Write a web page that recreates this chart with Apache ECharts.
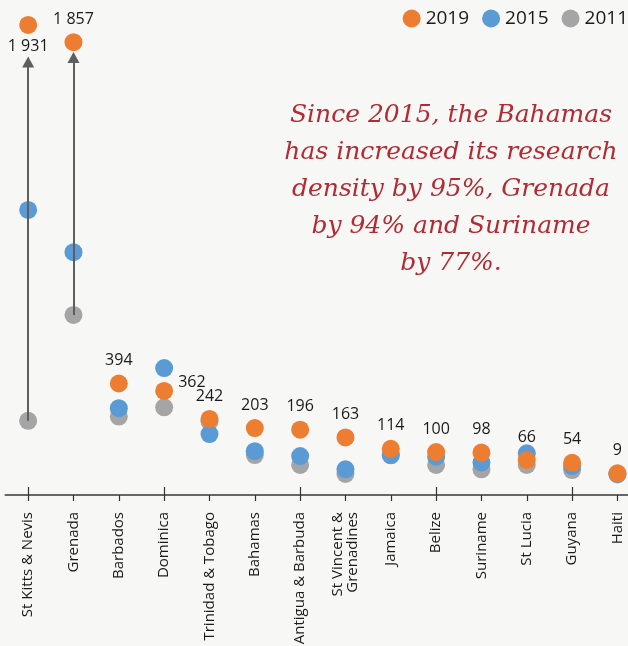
<!DOCTYPE html>
<html>
<head>
<meta charset="utf-8">
<script src="https://cdn.jsdelivr.net/npm/echarts@6/dist/echarts.min.js"></script>
<style>
html,body{margin:0;padding:0;background:#f7f7f5;}
#chart{width:628px;height:646px;}
</style>
</head>
<body>
<div id="chart"></div>
<script>
var categories = ['St Kitts & Nevis','Grenada','Barbados','Dominica','Trinidad & Tobago','Bahamas','Antigua & Barbuda','St Vincent &\nGrenadines','Jamaica','Belize','Suriname','St Lucia','Guyana','Haiti'];
var v2019 = [1931,1857,394,362,242,203,196,163,114,100,98,66,54,9];
var v2015 = [1138,957,288,460,177,104,83,26,87,80,55,95,40,6];
var v2011 = [234,688,252,292,232,87,45,6,86,45,26,45,23,4];
var arrowTop = [1772,1791];
var labels2019 = ['1 931','1 857','394','362','242','203','196','163','114','100','98','66','54','9'];
var note = 'Since 2015, the Bahamas\nhas increased its research\ndensity by 95%, Grenada\nby 94% and Suriname\nby 77%.';

var chart = echarts.init(document.getElementById('chart'));
var FONT = 'Open Sans';

var data2019 = v2019.map(function(v,i){
  var d = {value:v};
  if (i === 0) d.label = {position:'bottom', distance:5};
  if (i === 3) d.label = {position:'right', distance:5, offset:[0,-9]};
  return d;
});

var option = {
  backgroundColor:'#f7f7f5',
  animation:false,
  legend:{
    right:0, top:9, padding:0, itemGap:13,
    itemWidth:18, itemHeight:18,
    textStyle:{fontFamily:FONT, fontSize:19, color:'#1a1a1a'},
    data:[{name:'2019',icon:'circle'},{name:'2015',icon:'circle'},{name:'2011',icon:'circle'}]
  },
  grid:{left:5.5, width:634.6, top:10, bottom:151, containLabel:false, outerBoundsMode:'none'},
  xAxis:[{
    type:'category', data:categories, boundaryGap:true, position:'bottom',
    axisLine:{show:true, onZero:false, lineStyle:{color:'#666', width:2}},
    axisTick:{show:true, alignWithLabel:true, length:6, lineStyle:{color:'#333', width:1.2}},
    axisLabel:{rotate:90, margin:17, fontFamily:FONT, fontSize:15, color:'#1a1a1a', interval:0, lineHeight:15}
  },{
    type:'category', data:categories, boundaryGap:true, position:'bottom',
    axisLine:{show:false, onZero:false},
    axisTick:{show:true, inside:true, alignWithLabel:true, length:8, lineStyle:{color:'#333', width:1.2}},
    axisLabel:{show:false}
  }],
  yAxis:{type:'value', min:-84, max:1995, show:false, splitLine:{show:false}},
  graphic:[{
    type:'text', x:451, y:97, z:10,
    style:{text:note, textAlign:'center', textVerticalAlign:'top', lineHeight:37,
      font:'italic 25px "DejaVu Serif"', fill:'#b22a33'}
  }],
  series:[
    {type:'line', data:[], z:1, silent:true,
      markLine:{silent:true, symbol:['none','triangle'], symbolSize:[12,11], animation:false,
        lineStyle:{color:'#5e5e5e', width:2, type:'solid'}, label:{show:false},
        data:[
          [{coord:[categories[0], v2011[0]]},{coord:[categories[0], arrowTop[0]]}],
          [{coord:[categories[1], v2011[1]]},{coord:[categories[1], arrowTop[1]]}]
        ]}
    },
    {name:'2011', type:'scatter', z:2, symbolSize:18, data:v2011, itemStyle:{color:'#a5a5a5', opacity:1}},
    {name:'2015', type:'scatter', z:3, symbolSize:18, data:v2015, itemStyle:{color:'#5b9bd5', opacity:1}},
    {name:'2019', type:'scatter', z:4, symbolSize:18, data:data2019, itemStyle:{color:'#ed7d31', opacity:1},
      label:{show:true, position:'top', distance:6, fontFamily:FONT, fontSize:16, color:'#1a1a1a',
        formatter:function(p){return labels2019[p.dataIndex];}}}
  ]
};
chart.setOption(option);
</script>
</body>
</html>
